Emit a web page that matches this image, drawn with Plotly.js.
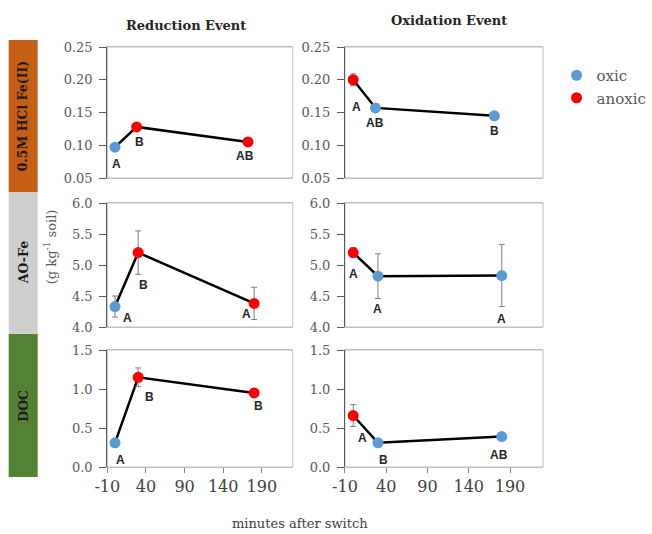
<!DOCTYPE html>
<html><head><meta charset="utf-8">
<script src="https://cdn.plot.ly/plotly-3.0.1.min.js"></script>
<style>html,body{margin:0;padding:0;background:#fff}#chart{width:652px;height:534px}</style>
</head><body><div id="chart"></div>
<script>
// ---------- data ----------
const colTitles = ['Reduction Event', 'Oxidation Event'];
const rowTitles = ['0.5M HCl Fe(II)', 'AO-Fe', 'DOC'];
const xTickVals = [-10, 40, 90, 140, 190];
const xTickText = ['-10', '40', '90', '140', '190'];
const conditions = ['oxic', 'anoxic'];

// 0.5M HCl Fe(II)
const feRedX = [0, 28, 172];
const feRedY = [0.097, 0.128, 0.105];
const feRedErr = [0.003, 0.004, 0.003];
const feRedCond = ['oxic', 'anoxic', 'anoxic'];
const feRedLbl = ['A', 'B', 'AB'];

const feOxX = [0, 27, 171];
const feOxY = [0.200, 0.157, 0.145];
const feOxErr = [0.009, 0.003, 0.003];
const feOxCond = ['anoxic', 'oxic', 'oxic'];
const feOxLbl = ['A', 'AB', 'B'];

// AO-Fe
const aoRedX = [0, 30, 180];
const aoRedY = [4.33, 5.20, 4.38];
const aoRedErr = [0.17, 0.35, 0.26];
const aoRedCond = ['oxic', 'anoxic', 'anoxic'];
const aoRedLbl = ['A', 'B', 'A'];

const aoOxX = [0, 30, 180];
const aoOxY = [5.20, 4.82, 4.83];
const aoOxErr = [0.08, 0.36, 0.50];
const aoOxCond = ['anoxic', 'oxic', 'oxic'];
const aoOxLbl = ['A', 'A', 'A'];

// DOC
const docRedX = [0, 30, 180];
const docRedY = [0.31, 1.15, 0.95];
const docRedErr = [0.02, 0.12, 0.05];
const docRedCond = ['oxic', 'anoxic', 'anoxic'];
const docRedLbl = ['A', 'B', 'B'];

const docOxX = [0, 30, 180];
const docOxY = [0.66, 0.31, 0.39];
const docOxErr = [0.14, 0.02, 0.03];
const docOxCond = ['anoxic', 'oxic', 'oxic'];
const docOxLbl = ['A', 'B', 'AB'];

// ---------- styling / layout ----------
const W = 652, H = 534;
const colPx = [[111, 303], [357, 562]];
const rowPx = [[47, 178], [203, 327], [350, 467]];
const yAxesCfg = [
  {range: [0.05, 0.25], dtick: 0.05, fmt: '.2f'},
  {range: [4.0, 6.0], dtick: 0.5, fmt: '.1f'},
  {range: [0.0, 1.5], dtick: 0.5, fmt: '.1f'}
];
const colors = {oxic: '#5B9BD5', anoxic: '#FF0000'};
const barColors = ['#C65F16', '#CFCFCF', '#548235'];
const barPx = [[40, 192], [192, 334], [334, 477]];
// label offsets in px (dx right, dy down) per subplot
const lblOff = [
  [[2, 17], [3, 15], [-3, 14]],
  [[3, 27], [0, 15], [0, 15]],
  [[13, 11], [5, 32], [-8, 11]],
  [[0, 21], [0, 33], [0, 43]],
  [[6, 17], [11, 20], [4, 13]],
  [[9, 22], [6, 17], [-3, 18]]
];

const panels = [
  [feRedX, feRedY, feRedErr, feRedCond, feRedLbl],
  [feOxX, feOxY, feOxErr, feOxCond, feOxLbl],
  [aoRedX, aoRedY, aoRedErr, aoRedCond, aoRedLbl],
  [aoOxX, aoOxY, aoOxErr, aoOxCond, aoOxLbl],
  [docRedX, docRedY, docRedErr, docRedCond, docRedLbl],
  [docOxX, docOxY, docOxErr, docOxCond, docOxLbl]
];

const serif = 'DejaVu Serif';
const traces = [];
const layout = {
  width: W, height: H,
  margin: {l: 0, r: 0, t: 0, b: 0},
  font: {family: serif},
  paper_bgcolor: '#ffffff', plot_bgcolor: '#ffffff',
  showlegend: true,
  legend: {x: 576 / W, y: 1 - 59 / H, xanchor: 'left', yanchor: 'top',
           font: {family: serif, size: 15, color: '#595959'},
           bgcolor: 'rgba(0,0,0,0)', itemwidth: 30, tracegroupgap: 0},
  shapes: [], annotations: []
};
const legendShown = {};

panels.forEach((p, i) => {
  const r = Math.floor(i / 2), c = i % 2;
  const n = i + 1, sfx = n === 1 ? '' : String(n);
  const xa = 'x' + sfx, ya = 'y' + sfx;
  const [X, Y, E, C, L] = p;
  layout['xaxis' + sfx] = {
    domain: [colPx[c][0] / W, colPx[c][1] / W],
    range: [-10, 230], tickvals: xTickVals, ticktext: xTickText,
    showticklabels: r === 2, ticks: r === 2 ? 'outside' : '', ticklen: 5,
    tickcolor: '#7F7F7F', showline: true, linecolor: '#BFBFBF', linewidth: 1,
    mirror: true, zeroline: false, showgrid: false, anchor: ya,
    tickfont: {family: serif, size: 16, color: '#404040'}, fixedrange: true
  };
  const yc = yAxesCfg[r];
  layout['yaxis' + sfx] = {
    domain: [1 - rowPx[r][1] / H, 1 - rowPx[r][0] / H],
    range: yc.range, tick0: yc.range[0], dtick: yc.dtick, tickformat: yc.fmt,
    ticks: 'outside', ticklen: 7, tickcolor: '#595959', showline: true,
    linecolor: '#595959', linewidth: 1, zeroline: false, showgrid: false,
    anchor: xa, ticklabelstandoff: 4,
    tickfont: {family: serif, size: 13, color: '#595959'}, fixedrange: true
  };
  layout.shapes.push({type: 'rect', xref: xa + ' domain', yref: ya + ' domain',
    x0: 0, x1: 1, y0: 0, y1: 1, line: {color: '#BFBFBF', width: 1}, layer: 'below'});

  traces.push({x: X, y: Y, xaxis: xa, yaxis: ya, mode: 'lines',
    line: {color: '#000000', width: 2.5}, showlegend: false, hoverinfo: 'skip'});
  conditions.forEach(cond => {
    const idx = C.map((v, k) => v === cond ? k : -1).filter(k => k >= 0);
    if (!idx.length) return;
    const show = !legendShown[cond];
    legendShown[cond] = true;
    traces.push({
      x: idx.map(k => X[k]), y: idx.map(k => Y[k]), xaxis: xa, yaxis: ya,
      mode: 'markers', name: cond, legendgroup: cond, showlegend: show,
      marker: {color: colors[cond], size: 11},
      error_y: {type: 'data', array: idx.map(k => E[k]), visible: true,
                color: '#7F7F7F', thickness: 1, width: 3}
    });
  });
  L.forEach((t, k) => {
    layout.annotations.push({x: X[k], y: Y[k], xref: xa, yref: ya, text: '<b>' + t + '</b>',
      showarrow: false, xshift: lblOff[i][k][0], yshift: -lblOff[i][k][1],
      font: {family: 'Liberation Sans', size: 12, color: '#262626'}});
  });
});

// side bars + labels
rowTitles.forEach((t, r) => {
  layout.shapes.push({type: 'rect', xref: 'paper', yref: 'paper',
    x0: 9 / W, x1: 39 / W, y0: 1 - barPx[r][1] / H, y1: 1 - barPx[r][0] / H,
    fillcolor: barColors[r], line: {width: 0}, layer: 'below'});
  layout.annotations.push({xref: 'paper', yref: 'paper', x: 24 / W,
    y: 1 - (barPx[r][0] + barPx[r][1]) / 2 / H, text: '<b>' + t + '</b>',
    textangle: -90, showarrow: false, xanchor: 'center', yanchor: 'middle',
    font: {family: serif, size: 12.5, color: '#1a1a1a'}});
});
// column titles
[[192, 25], [465, 21]].forEach((pos, c) => {
  layout.annotations.push({xref: 'paper', yref: 'paper', x: pos[0] / W, y: 1 - pos[1] / H,
    text: '<b>' + colTitles[c] + '</b>', showarrow: false, xanchor: 'center', yanchor: 'middle',
    font: {family: serif, size: 13, color: '#262626'}});
});
// y axis title
layout.annotations.push({xref: 'paper', yref: 'paper', x: 52 / W, y: 1 - 247 / H,
  text: '(g kg<sup>-1</sup> soil)', textangle: -90, showarrow: false,
  xanchor: 'center', yanchor: 'middle', font: {family: serif, size: 13, color: '#595959'}});
// x axis title
layout.annotations.push({xref: 'paper', yref: 'paper', x: 310 / W, y: 1 - 523 / H,
  text: 'minutes after switch', showarrow: false, xanchor: 'center', yanchor: 'middle',
  font: {family: serif, size: 13, color: '#404040'}});

Plotly.newPlot('chart', traces, layout, {displayModeBar: false, staticPlot: true});
</script>
</body></html>
